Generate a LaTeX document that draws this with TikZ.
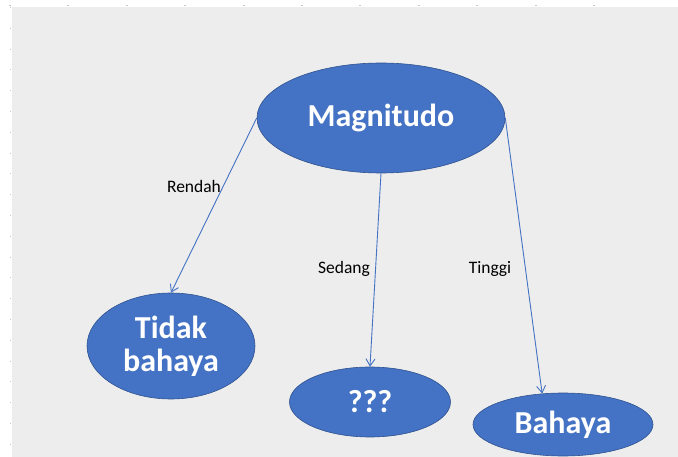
\documentclass[tikz,border=0pt]{standalone}
\usepackage{fontspec}
\setmainfont{Carlito}
\usetikzlibrary{shapes.geometric,arrows.meta}
\definecolor{bgray}{HTML}{EDEDED}
\definecolor{tickgray}{HTML}{C8C8C8}
\definecolor{ofblue}{HTML}{4472C4}
\definecolor{ofborder}{HTML}{2F528F}
\tikzset{
  blob/.style={ellipse, fill=ofblue, draw=ofborder, line width=0.6pt, inner sep=0pt,
    text=white, font=\fontsize{32}{33}\selectfont\bfseries, align=center},
  conn/.style={draw=ofblue, line width=0.9pt, -{Straight Barb[length=7pt,width=9pt]}},
  lbl/.style={font=\fontsize{17.5}{20}\selectfont, text=black, inner sep=0pt},
  tick/.style={draw=tickgray, line width=0.8pt}
}
\begin{document}
\begin{tikzpicture}[x=1pt,y=-1pt]
\useasboundingbox (0,0) rectangle (678,457);
\fill[bgray] (12,7) rectangle (678,457);
\foreach \i in {0,...,10} {\draw[tick] ({9+58.4*\i},5.5) -- ++(2,0);}
\foreach \j in {0,...,21} {\draw[tick] (10.5,{7+20.8*\j}) -- ++(0,1);}
\node[blob, minimum width=248pt, minimum height=110pt] (mag) at (381,118) {Magnitudo};
\node[blob, minimum width=168pt, minimum height=106pt] (tb) at (171,346) {Tidak\\bahaya};
\node[blob, minimum width=161pt, minimum height=70pt] (q) at (370,402) {???};
\node[blob, minimum width=180pt, minimum height=63pt] (bh) at (563,424.5) {Bahaya};
\draw[conn] (mag.west) -- (tb.north);
\draw[conn] (mag.south) -- (q.north);
\draw[conn] (mag.east) -- (bh.124);
\node[lbl] (lr) at (194,186) {Rendah};
\node[lbl] (ls) at (344,269) {Sedang};
\node[lbl] (lt) at (490,269) {Tinggi};
\end{tikzpicture}
\end{document}
